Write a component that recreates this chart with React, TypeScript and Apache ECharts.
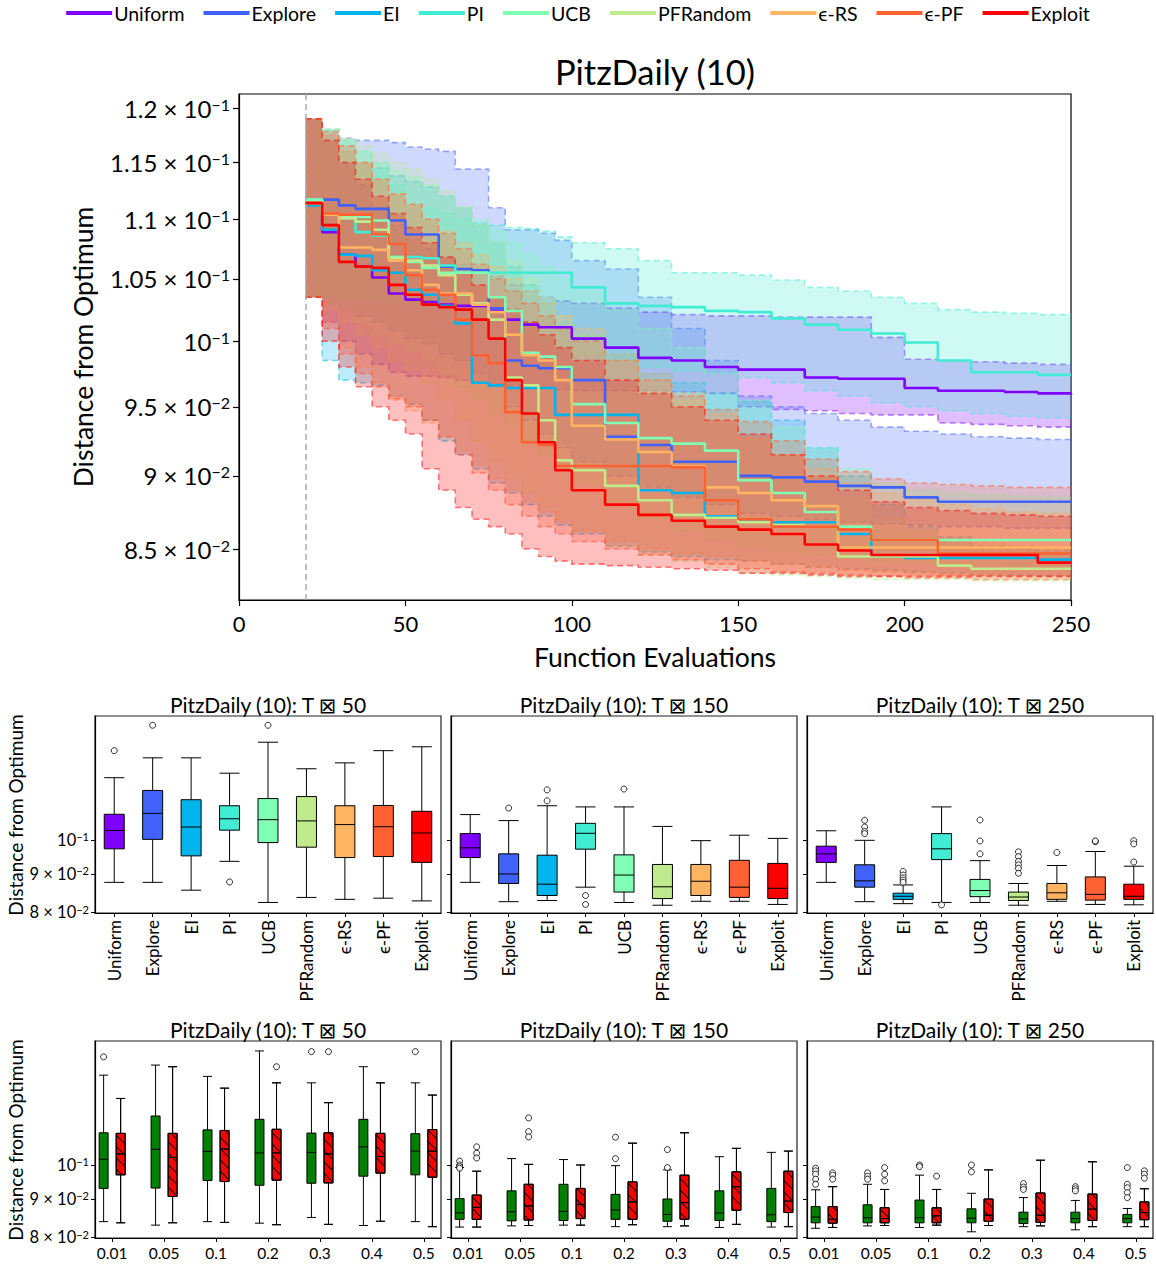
import React, { useEffect, useRef } from "react";
import * as echarts from "echarts";

const FONT = "Lato, 'DejaVu Sans', sans-serif";

const methods = ["Uniform", "Explore", "EI", "PI", "UCB", "PFRandom", "ϵ-RS", "ϵ-PF", "Exploit"];
const colors = ["#8000ff", "#4062fa", "#00b5eb", "#40ecd4", "#80ffb4", "#c0eb8d", "#ffb462", "#ff6232", "#ff0000"];

const evals = [20, 25, 30, 35, 40, 45, 50, 55, 60, 65, 70, 75, 80, 85, 90, 95, 100, 110, 120, 130, 140, 150, 160, 170, 180, 190, 200, 210, 220, 230, 240, 250];

const uniformMed = [0.1114,0.1089,0.1070,0.1060,0.1051,0.1038,0.1033,0.1031,0.1029,0.1028,0.1028,0.1024,0.1017,0.1013,0.1011,0.1011,0.1002,0.0995,0.0987,0.0985,0.0980,0.0978,0.0978,0.0972,0.0971,0.0971,0.0964,0.0962,0.0962,0.0961,0.0960,0.0959];
const uniformLo = [0.1035,0.1015,0.1000,0.0990,0.0982,0.0976,0.0973,0.0973,0.0972,0.0970,0.0968,0.0967,0.0966,0.0965,0.0964,0.0963,0.0962,0.0962,0.0962,0.0961,0.0960,0.0950,0.0948,0.0947,0.0945,0.0944,0.0944,0.0938,0.0937,0.0936,0.0935,0.0935];
const uniformHi = [0.1190,0.1175,0.1150,0.1130,0.1110,0.1095,0.1083,0.1075,0.1068,0.1062,0.1058,0.1052,0.1045,0.1040,0.1035,0.1032,0.1030,0.1026,0.1023,0.1021,0.1020,0.1020,0.1019,0.1019,0.1019,0.1003,0.0986,0.0985,0.0984,0.0983,0.0982,0.0981];

const exploreMed = [0.1117,0.1117,0.1112,0.1109,0.1109,0.1099,0.1087,0.1087,0.1060,0.1058,0.1057,0.1026,0.0985,0.0981,0.0979,0.0979,0.0970,0.0928,0.0922,0.0910,0.0910,0.0900,0.0899,0.0896,0.0893,0.0892,0.0885,0.0882,0.0882,0.0882,0.0882,0.0882];
const exploreLo = [0.1035,0.1030,0.1025,0.1020,0.1015,0.1008,0.1002,0.0998,0.0990,0.0985,0.0975,0.0965,0.0950,0.0940,0.0930,0.0920,0.0910,0.0900,0.0892,0.0885,0.0880,0.0874,0.0872,0.0870,0.0868,0.0867,0.0866,0.0865,0.0865,0.0864,0.0864,0.0864];
const exploreHi = [0.1190,0.1180,0.1172,0.1170,0.1170,0.1168,0.1164,0.1162,0.1160,0.1144,0.1144,0.1110,0.1091,0.1091,0.1088,0.1082,0.1065,0.1058,0.1035,0.1010,0.0985,0.0958,0.0950,0.0945,0.0940,0.0935,0.0932,0.0930,0.0928,0.0927,0.0926,0.0926];

const eiMed = [0.1112,0.1091,0.1070,0.1069,0.1057,0.1055,0.1041,0.1037,0.1028,0.1014,0.0968,0.0966,0.0964,0.0964,0.0964,0.0944,0.0944,0.0944,0.0890,0.0888,0.0872,0.0870,0.0868,0.0868,0.0860,0.0845,0.0844,0.0844,0.0844,0.0844,0.0843,0.0843];
const eiLo = [0.1035,0.0985,0.0970,0.0968,0.0966,0.0958,0.0952,0.0940,0.0925,0.0915,0.0905,0.0895,0.0888,0.0880,0.0872,0.0866,0.0860,0.0852,0.0848,0.0845,0.0843,0.0842,0.0840,0.0838,0.0837,0.0836,0.0835,0.0834,0.0833,0.0833,0.0832,0.0832];
const eiHi = [0.1190,0.1170,0.1160,0.1150,0.1145,0.1138,0.1133,0.1128,0.1120,0.1110,0.1095,0.1080,0.1060,0.1045,0.1030,0.1015,0.1005,0.0990,0.0975,0.0968,0.0960,0.0954,0.0940,0.0920,0.0900,0.0880,0.0865,0.0858,0.0852,0.0850,0.0849,0.0848];

const piMed = [0.1117,0.1104,0.1101,0.1089,0.1086,0.1068,0.1068,0.1067,0.1061,0.1055,0.1055,0.1055,0.1055,0.1055,0.1055,0.1055,0.1043,0.1030,0.1028,0.1027,0.1024,0.1023,0.1018,0.1013,0.1009,0.1006,0.0999,0.0985,0.0976,0.0976,0.0974,0.0974];
const piLo = [0.1035,0.1035,0.1034,0.1033,0.1032,0.1031,0.1031,0.1030,0.1028,0.1025,0.1020,0.1015,0.1010,0.1005,0.1000,0.0995,0.0990,0.0985,0.0980,0.0977,0.0975,0.0972,0.0968,0.0962,0.0958,0.0953,0.0950,0.0947,0.0945,0.0943,0.0942,0.0941];
const piHi = [0.1190,0.1180,0.1170,0.1160,0.1150,0.1130,0.1112,0.1110,0.1105,0.1100,0.1097,0.1095,0.1093,0.1092,0.1090,0.1085,0.1080,0.1075,0.1065,0.1055,0.1055,0.1053,0.1049,0.1043,0.1040,0.1035,0.1030,0.1025,0.1023,0.1022,0.1021,0.1020];

const ucbMed = [0.1117,0.1104,0.1102,0.1102,0.1099,0.1068,0.1064,0.1059,0.1055,0.1055,0.1055,0.1035,0.1024,0.0991,0.0988,0.0980,0.0952,0.0938,0.0927,0.0923,0.0918,0.0897,0.0888,0.0875,0.0865,0.0856,0.0856,0.0856,0.0856,0.0856,0.0856,0.0856];
const ucbLo = [0.1035,0.1030,0.1025,0.1015,0.1005,0.0998,0.0992,0.0985,0.0975,0.0965,0.0955,0.0945,0.0935,0.0925,0.0915,0.0905,0.0895,0.0880,0.0870,0.0862,0.0856,0.0851,0.0848,0.0846,0.0844,0.0842,0.0841,0.0840,0.0840,0.0839,0.0839,0.0839];
const ucbHi = [0.1190,0.1180,0.1170,0.1160,0.1150,0.1142,0.1137,0.1130,0.1120,0.1110,0.1100,0.1090,0.1080,0.1070,0.1060,0.1050,0.1040,0.1025,0.1010,0.0995,0.0975,0.0955,0.0935,0.0920,0.0905,0.0895,0.0890,0.0888,0.0887,0.0886,0.0885,0.0885];

const pfrMed = [0.1114,0.1104,0.1101,0.1098,0.1091,0.1067,0.1065,0.1061,0.1053,0.1037,0.1030,0.1017,0.0972,0.0966,0.0940,0.0911,0.0904,0.0893,0.0883,0.0873,0.0871,0.0868,0.0866,0.0865,0.0845,0.0845,0.0845,0.0839,0.0837,0.0837,0.0837,0.0837];
const pfrLo = [0.1035,0.1025,0.1015,0.1005,0.0995,0.0985,0.0978,0.0968,0.0955,0.0940,0.0925,0.0910,0.0898,0.0888,0.0878,0.0870,0.0862,0.0852,0.0846,0.0842,0.0838,0.0834,0.0833,0.0832,0.0831,0.0830,0.0830,0.0830,0.0829,0.0829,0.0829,0.0829];
const pfrHi = [0.1190,0.1180,0.1172,0.1165,0.1158,0.1150,0.1144,0.1135,0.1125,0.1110,0.1095,0.1080,0.1065,0.1050,0.1035,0.1020,0.1005,0.0985,0.0970,0.0955,0.0940,0.0927,0.0915,0.0900,0.0885,0.0870,0.0862,0.0857,0.0854,0.0852,0.0851,0.0851];

const rsMed = [0.1114,0.1104,0.1076,0.1076,0.1074,0.1065,0.1057,0.1045,0.1038,0.1038,0.1029,0.1023,0.1005,0.0989,0.0985,0.0970,0.0936,0.0926,0.0917,0.0907,0.0892,0.0888,0.0883,0.0879,0.0851,0.0851,0.0851,0.0851,0.0851,0.0851,0.0851,0.0851];
const rsLo = [0.1035,0.1015,0.0995,0.0980,0.0968,0.0955,0.0947,0.0938,0.0928,0.0918,0.0908,0.0898,0.0890,0.0882,0.0875,0.0868,0.0862,0.0855,0.0850,0.0847,0.0845,0.0842,0.0840,0.0838,0.0836,0.0835,0.0834,0.0833,0.0833,0.0832,0.0832,0.0832];
const rsHi = [0.1190,0.1175,0.1160,0.1150,0.1135,0.1122,0.1112,0.1100,0.1090,0.1080,0.1070,0.1060,0.1050,0.1040,0.1030,0.1020,0.1010,0.0990,0.0975,0.0960,0.0945,0.0927,0.0915,0.0905,0.0895,0.0888,0.0884,0.0880,0.0877,0.0875,0.0874,0.0874];

const pfMed = [0.1114,0.1105,0.1104,0.1104,0.1087,0.1079,0.1053,0.1041,0.1037,0.1017,0.0989,0.0983,0.0946,0.0924,0.0922,0.0907,0.0907,0.0907,0.0907,0.0906,0.0883,0.0870,0.0865,0.0865,0.0863,0.0856,0.0856,0.0847,0.0847,0.0847,0.0847,0.0847];
const pfLo = [0.1035,0.1010,0.0990,0.0975,0.0965,0.0956,0.0950,0.0940,0.0928,0.0915,0.0902,0.0890,0.0880,0.0872,0.0865,0.0860,0.0855,0.0850,0.0846,0.0843,0.0840,0.0837,0.0835,0.0834,0.0833,0.0832,0.0831,0.0831,0.0830,0.0830,0.0830,0.0830];
const pfHi = [0.1190,0.1178,0.1165,0.1150,0.1135,0.1122,0.1113,0.1100,0.1088,0.1075,0.1062,0.1050,0.1040,0.1030,0.1020,0.1010,0.1000,0.0985,0.0970,0.0958,0.0948,0.0939,0.0925,0.0912,0.0903,0.0898,0.0895,0.0894,0.0893,0.0892,0.0892,0.0892];

const exMed = [0.1114,0.1095,0.1064,0.1060,0.1059,0.1045,0.1037,0.1029,0.1027,0.1025,0.1017,0.1002,0.0970,0.0945,0.0924,0.0904,0.0890,0.0880,0.0873,0.0869,0.0865,0.0863,0.0860,0.0853,0.0849,0.0846,0.0846,0.0846,0.0846,0.0846,0.0841,0.0841];
const exLo = [0.1035,0.1000,0.0980,0.0965,0.0950,0.0940,0.0930,0.0905,0.0890,0.0878,0.0870,0.0865,0.0860,0.0850,0.0845,0.0842,0.0840,0.0839,0.0838,0.0837,0.0836,0.0834,0.0834,0.0833,0.0832,0.0832,0.0832,0.0832,0.0832,0.0832,0.0832,0.0832];
const exHi = [0.1190,0.1170,0.1150,0.1135,0.1120,0.1105,0.1093,0.1080,0.1068,0.1055,0.1045,0.1035,0.1025,0.1015,0.1005,0.0995,0.0985,0.0970,0.0960,0.0950,0.0940,0.0930,0.0915,0.0900,0.0890,0.0882,0.0878,0.0876,0.0874,0.0873,0.0872,0.0872];

const MED = [uniformMed, exploreMed, eiMed, piMed, ucbMed, pfrMed, rsMed, pfMed, exMed];
const LO = [uniformLo, exploreLo, eiLo, piLo, ucbLo, pfrLo, rsLo, pfLo, exLo];
const HI = [uniformHi, exploreHi, eiHi, piHi, ucbHi, pfrHi, rsHi, pfHi, exHi];

const topTicks = [0.085, 0.09, 0.095, 0.1, 0.105, 0.11, 0.115, 0.12];
const boxTicks = [0.08, 0.09, 0.1];

// [min, Q1, median, Q3, max]
const box50 = [
  [0.0877, 0.0973, 0.1030, 0.1083, 0.1213],
  [0.0877, 0.1002, 0.1086, 0.1166, 0.1290],
  [0.0856, 0.0952, 0.1041, 0.1133, 0.1290],
  [0.0936, 0.1031, 0.1068, 0.1112, 0.1230],
  [0.0824, 0.0992, 0.1065, 0.1137, 0.1354],
  [0.0837, 0.0978, 0.1061, 0.1144, 0.1247],
  [0.0832, 0.0947, 0.1049, 0.1112, 0.1270],
  [0.0835, 0.0950, 0.1042, 0.1113, 0.1319],
  [0.0828, 0.0933, 0.1022, 0.1093, 0.1335],
];
const out50 = [[0, 0.1319], [1, 0.1427], [3, 0.0878], [4, 0.1427]];
const box150 = [
  [0.0877, 0.0947, 0.0976, 0.1020, 0.1082],
  [0.0826, 0.0874, 0.0900, 0.0958, 0.1062],
  [0.0829, 0.0842, 0.0872, 0.0954, 0.1112],
  [0.0864, 0.0972, 0.1021, 0.1053, 0.1108],
  [0.0824, 0.0851, 0.0897, 0.0955, 0.1108],
  [0.0817, 0.0834, 0.0865, 0.0927, 0.1043],
  [0.0827, 0.0842, 0.0880, 0.0927, 0.0998],
  [0.0827, 0.0837, 0.0864, 0.0939, 0.1015],
  [0.0819, 0.0834, 0.0861, 0.0930, 0.1005],
];
const out150 = [[1, 0.1104], [2, 0.1168], [2, 0.1129], [3, 0.0842], [3, 0.0819], [4, 0.1171]];
const box250 = [
  [0.0877, 0.0933, 0.0958, 0.0981, 0.1029],
  [0.0826, 0.0864, 0.0881, 0.0926, 0.0999],
  [0.0821, 0.0832, 0.0840, 0.0848, 0.0870],
  [0.0824, 0.0941, 0.0973, 0.1020, 0.1108],
  [0.0824, 0.0839, 0.0855, 0.0885, 0.0938],
  [0.0817, 0.0829, 0.0838, 0.0851, 0.0874],
  [0.0827, 0.0832, 0.0849, 0.0874, 0.0924],
  [0.0819, 0.0830, 0.0845, 0.0892, 0.0965],
  [0.0818, 0.0832, 0.0840, 0.0872, 0.0922],
];
const out250 = [[1, 0.1063], [1, 0.1041], [1, 0.1027], [1, 0.1020], [2, 0.0907], [2, 0.0897], [2, 0.0889], [2, 0.0883], [2, 0.0877], [3, 0.0818], [4, 0.1064], [4, 0.0997], [4, 0.0958], [5, 0.0964], [5, 0.0950], [5, 0.0936], [5, 0.0926], [5, 0.0916], [5, 0.0902], [6, 0.0962], [7, 0.0995], [7, 0.0997], [8, 0.0998], [8, 0.0988], [8, 0.0934]];

const rates = ["0.01", "0.05", "0.1", "0.2", "0.3", "0.4", "0.5"];
const green50 = [
  [0.0839, 0.0930, 0.1018, 0.1105, 0.1321],
  [0.0830, 0.0931, 0.1050, 0.1164, 0.1363],
  [0.0839, 0.0953, 0.1043, 0.1115, 0.1316],
  [0.0835, 0.0939, 0.1038, 0.1152, 0.1424],
  [0.0850, 0.0945, 0.1040, 0.1104, 0.1290],
  [0.0829, 0.0966, 0.1058, 0.1152, 0.1356],
  [0.0839, 0.0970, 0.1044, 0.1102, 0.1290],
];
const red50 = [
  [0.0836, 0.0970, 0.1035, 0.1103, 0.1229],
  [0.0836, 0.0907, 0.1024, 0.1103, 0.1356],
  [0.0837, 0.0950, 0.1051, 0.1113, 0.1269],
  [0.0831, 0.0954, 0.1038, 0.1117, 0.1290],
  [0.0832, 0.0946, 0.1035, 0.1105, 0.1213],
  [0.0840, 0.0975, 0.1027, 0.1103, 0.1290],
  [0.0826, 0.0963, 0.1044, 0.1116, 0.1242],
];
const greenOut50 = [[0, 0.1398], [4, 0.1421], [6, 0.1421]];
const redOut50 = [[3, 0.1356], [4, 0.1421]];
const green150 = [
  [0.0825, 0.0845, 0.0862, 0.0901, 0.0992],
  [0.0828, 0.0841, 0.0865, 0.0923, 0.1020],
  [0.0830, 0.0842, 0.0866, 0.0942, 0.1017],
  [0.0826, 0.0845, 0.0870, 0.0913, 0.0998],
  [0.0826, 0.0840, 0.0858, 0.0900, 0.0985],
  [0.0824, 0.0842, 0.0862, 0.0923, 0.1026],
  [0.0825, 0.0839, 0.0857, 0.0930, 0.1040],
];
const red150 = [
  [0.0825, 0.0845, 0.0877, 0.0911, 0.0981],
  [0.0829, 0.0843, 0.0881, 0.0942, 0.1002],
  [0.0830, 0.0847, 0.0885, 0.0930, 0.1000],
  [0.0831, 0.0845, 0.0892, 0.0949, 0.1070],
  [0.0828, 0.0845, 0.0890, 0.0969, 0.1105],
  [0.0832, 0.0869, 0.0935, 0.0979, 0.1053],
  [0.0826, 0.0863, 0.0894, 0.0981, 0.1044],
];
const greenOut150 = [[0, 0.1012], [0, 0.1000], [0, 0.0995], [0, 0.0990], [3, 0.1090], [3, 0.1020], [4, 0.1049], [4, 0.0992]];
const redOut150 = [[0, 0.1058], [0, 0.1037], [0, 0.1022], [1, 0.1157], [1, 0.1109], [1, 0.1091]];
const green250 = [
  [0.0822, 0.0836, 0.0851, 0.0879, 0.0926],
  [0.0828, 0.0836, 0.0849, 0.0884, 0.0942],
  [0.0824, 0.0836, 0.0849, 0.0897, 0.0969],
  [0.0813, 0.0836, 0.0848, 0.0873, 0.0916],
  [0.0826, 0.0834, 0.0846, 0.0864, 0.0904],
  [0.0818, 0.0836, 0.0847, 0.0864, 0.0896],
  [0.0826, 0.0836, 0.0847, 0.0858, 0.0874],
];
const red250 = [
  [0.0824, 0.0835, 0.0845, 0.0879, 0.0935],
  [0.0829, 0.0836, 0.0847, 0.0876, 0.0927],
  [0.0830, 0.0836, 0.0854, 0.0876, 0.0927],
  [0.0829, 0.0840, 0.0856, 0.0900, 0.0985],
  [0.0828, 0.0837, 0.0856, 0.0917, 0.1015],
  [0.0826, 0.0842, 0.0872, 0.0914, 0.1010],
  [0.0826, 0.0844, 0.0863, 0.0892, 0.0929],
];
const greenOut250 = [[0, 0.0990], [0, 0.0982], [0, 0.0972], [0, 0.0957], [0, 0.0942], [1, 0.0976], [1, 0.0966], [1, 0.0957], [2, 0.1000], [2, 0.0995], [3, 0.1000], [3, 0.0979], [4, 0.0944], [4, 0.0934], [4, 0.0927], [5, 0.0935], [5, 0.0929], [5, 0.0923], [6, 0.0992], [6, 0.0942], [6, 0.0932], [6, 0.0918], [6, 0.0904]];
const redOut250 = [[0, 0.0976], [0, 0.0969], [0, 0.0957], [1, 0.0992], [1, 0.0972], [1, 0.0952], [2, 0.0966], [6, 0.0982], [6, 0.0972], [6, 0.0960]];

const panelTitles = ["PitzDaily (10): T ⊠ 50", "PitzDaily (10): T ⊠ 150", "PitzDaily (10): T ⊠ 250"];

const lg = (v: number) => Math.log10(v);

function sciLabel(v: number) {
  const e = Math.floor(Math.log10(v) + 1e-9);
  const m = Math.round((v / Math.pow(10, e)) * 1000) / 1000;
  const sup = "−" + String(-e);
  return m === 1 ? `{b|10}{s|${sup}}` : `{b|${m} × 10}{s|${sup}}`;
}

const TOP_MIN = -1.0879;
const TOP_MAX = -0.91606;
const BOX_MIN = -1.09825;
const BOX_MAX = -0.83311;
const PANEL_LEFT = [95, 451, 807];
const ROW_TOP = [716, 1041];
const PANEL_W = 346;
const PANEL_H = 197;
const OFF = 0.164;

function buildOption(): any {
  const black = "#000";
  const grids: any[] = [{ left: 239, top: 94, width: 832, height: 506, show: true, borderColor: black, borderWidth: 1.2, backgroundColor: "transparent" }];
  for (let r = 0; r < 2; r++)
    for (let p = 0; p < 3; p++)
      grids.push({ left: PANEL_LEFT[p], top: ROW_TOP[r], width: PANEL_W, height: PANEL_H, show: true, borderColor: "#222", borderWidth: 1.2, backgroundColor: "transparent" });

  const axLine = { show: true, onZero: false, lineStyle: { color: black, width: 1.2 } };
  const xAxes: any[] = [
    {
      type: "value", gridIndex: 0, min: 0, max: 250, interval: 50,
      axisLine: axLine, axisTick: { show: true, length: 6, lineStyle: { color: black, width: 1.2 } },
      splitLine: { show: false },
      axisLabel: { color: black, fontSize: 22, fontFamily: FONT, margin: 12 },
    },
  ];
  for (let p = 0; p < 3; p++)
    xAxes.push({
      type: "category", gridIndex: 1 + p, data: methods,
      axisLine: axLine, axisTick: { show: true, alignWithLabel: true, length: 4, lineStyle: { color: black } },
      axisLabel: { rotate: 90, interval: 0, color: black, fontSize: 17, fontFamily: FONT, margin: 7 },
    });
  for (let p = 0; p < 3; p++)
    xAxes.push({
      type: "value", gridIndex: 4 + p, min: -0.33, max: 6.33,
      axisLine: axLine, splitLine: { show: false },
      axisTick: { show: true, length: 4, customValues: [0, 1, 2, 3, 4, 5, 6], lineStyle: { color: black } },
      axisLabel: { customValues: [0, 1, 2, 3, 4, 5, 6], color: black, fontSize: 15.5, fontFamily: FONT, margin: 7, formatter: (v: number) => rates[Math.round(v)] },
    });

  const yAxes: any[] = [
    {
      type: "value", gridIndex: 0, min: TOP_MIN, max: TOP_MAX,
      axisLine: axLine, splitLine: { show: false },
      axisTick: { show: true, length: 6, customValues: topTicks.map(lg), lineStyle: { color: black, width: 1.2 } },
      axisLabel: {
        customValues: topTicks.map(lg), margin: 9,
        formatter: (v: number) => sciLabel(Math.pow(10, v)),
        rich: {
          b: { fontSize: 24, fontFamily: FONT, color: black },
          s: { fontSize: 16, fontFamily: FONT, color: black, verticalAlign: "top" },
        },
      },
    },
  ];
  for (let i = 0; i < 6; i++) {
    const showLab = i === 0 || i === 3;
    yAxes.push({
      type: "value", gridIndex: 1 + i, min: BOX_MIN, max: BOX_MAX,
      axisLine: axLine, splitLine: { show: false },
      axisTick: { show: true, length: 4, customValues: boxTicks.map(lg), lineStyle: { color: black } },
      axisLabel: {
        show: showLab, customValues: boxTicks.map(lg), margin: 6,
        formatter: (v: number) => sciLabel(Math.pow(10, v)),
        rich: {
          b: { fontSize: 16.5, fontFamily: FONT, color: black },
          s: { fontSize: 11, fontFamily: FONT, color: black, verticalAlign: "top" },
        },
      },
    });
  }

  const series: any[] = [];

  // IQR bands
  methods.forEach((m, i) => {
    series.push({
      type: "custom", name: m + " band", xAxisIndex: 0, yAxisIndex: 0, silent: true, clip: true, z: 2,
      data: [[evals[0], lg(MED[i][0])]],
      renderItem: (_params: any, api: any) => {
        const stepPts = (ys: number[]) => {
          const pts: number[][] = [];
          for (let k = 0; k < evals.length; k++) {
            const p = api.coord([evals[k], lg(ys[k])]);
            if (k > 0) pts.push([p[0], pts[pts.length - 1][1]]);
            pts.push(p);
          }
          return pts;
        };
        const up = stepPts(HI[i]);
        const lo = stepPts(LO[i]);
        return {
          type: "group",
          children: [
            { type: "polygon", shape: { points: up.concat(lo.slice().reverse()) }, style: { fill: colors[i], opacity: 0.25 } },
            { type: "polyline", shape: { points: up }, style: { stroke: colors[i], fill: null, lineWidth: 1.6, lineDash: [6, 4], opacity: 0.5 } },
            { type: "polyline", shape: { points: lo }, style: { stroke: colors[i], fill: null, lineWidth: 1.6, lineDash: [6, 4], opacity: 0.5 } },
          ],
        };
      },
    });
  });

  // median lines
  methods.forEach((m, i) => {
    const s: any = {
      type: "line", name: m, xAxisIndex: 0, yAxisIndex: 0, step: "end", symbol: "none", showSymbol: false, z: 3,
      lineStyle: { color: colors[i], width: 2.6 }, itemStyle: { color: colors[i] },
      data: evals.map((x, k) => [x, lg(MED[i][k])]),
      silent: true,
    };
    if (i === 0) {
      s.markLine = {
        silent: true, symbol: "none", label: { show: false },
        lineStyle: { color: "#aaa", type: [6, 4], width: 1.5 },
        data: [{ xAxis: 20 }],
      };
    }
    series.push(s);
  });

  const outlierStyle = { color: "#fff", borderColor: black, borderWidth: 1 };
  const boxSets = [box50, box150, box250];
  const outSets = [out50, out150, out250];
  boxSets.forEach((bs, p) => {
    series.push({
      type: "boxplot", xAxisIndex: 1 + p, yAxisIndex: 1 + p, boxWidth: [20, 20], silent: true, z: 3,
      itemStyle: { borderColor: black, borderWidth: 1 },
      data: bs.map((b, i) => ({ value: b.map(lg), itemStyle: { color: colors[i], borderColor: black, borderWidth: 1 } })),
    });
    series.push({
      type: "scatter", xAxisIndex: 1 + p, yAxisIndex: 1 + p, symbol: "circle", symbolSize: 6, silent: true, z: 4,
      itemStyle: outlierStyle,
      data: outSets[p].map((o) => [o[0], lg(o[1])]),
    });
  });

  const greenSets = [green50, green150, green250];
  const redSets = [red50, red150, red250];
  const gOutSets = [greenOut50, greenOut150, greenOut250];
  const rOutSets = [redOut50, redOut150, redOut250];
  const hatch = {
    symbol: "rect", symbolSize: 1, color: "rgba(0,0,0,0.9)",
    dashArrayX: [1, 0], dashArrayY: [1, 7], rotation: Math.PI / 4,
  };
  for (let p = 0; p < 3; p++) {
    const items: any[] = [];
    for (let k = 0; k < rates.length; k++) {
      items.push({ value: [k - OFF, ...greenSets[p][k].map(lg)], itemStyle: { color: "#008000", borderColor: black, borderWidth: 1 } });
      items.push({ value: [k + OFF, ...redSets[p][k].map(lg)], itemStyle: { color: "#ff0000", borderColor: black, borderWidth: 1, decal: hatch } });
    }
    series.push({
      type: "boxplot", xAxisIndex: 4 + p, yAxisIndex: 4 + p, boxWidth: [9, 9], silent: true, z: 3, layout: "horizontal",
      itemStyle: { borderColor: black, borderWidth: 1 },
      data: items,
    });
    series.push({
      type: "scatter", xAxisIndex: 4 + p, yAxisIndex: 4 + p, symbol: "circle", symbolSize: 6, silent: true, z: 4,
      itemStyle: outlierStyle,
      data: gOutSets[p].map((o) => [o[0] - OFF, lg(o[1])]).concat(rOutSets[p].map((o) => [o[0] + OFF, lg(o[1])])),
    });
  }

  const txt = (text: string, x: number, y: number, fontSize: number, rot = 0) => ({
    type: "text", x, y, rotation: rot, silent: true,
    style: { text, fontSize, fontFamily: FONT, fill: black, align: "center", verticalAlign: "middle", textAlign: "center", textVerticalAlign: "middle" },
  });
  const graphics: any[] = [
    txt("PitzDaily (10)", 655, 71, 34.5),
    txt("Function Evaluations", 655, 657, 26.5),
    txt("Distance from Optimum", 83, 347, 26.5, Math.PI / 2),
    txt("Distance from Optimum", 15, 815, 19, Math.PI / 2),
    txt("Distance from Optimum", 15, 1140, 19, Math.PI / 2),
  ];
  for (let r = 0; r < 2; r++)
    for (let p = 0; p < 3; p++)
      graphics.push(txt(panelTitles[p], PANEL_LEFT[p] + PANEL_W / 2, r === 0 ? 704 : 1029, 21));

  return {
    animation: false,
    backgroundColor: "#fff",
    textStyle: { fontFamily: FONT },
    legend: {
      data: methods, top: 0, left: "center", padding: [3, 5, 3, 5], icon: "rect", itemWidth: 46, itemHeight: 4, itemGap: 19,
      selectedMode: false, textStyle: { fontSize: 19.5, fontFamily: FONT, color: black, padding: [0, 0, 0, -3] },
    },
    grid: grids,
    xAxis: xAxes,
    yAxis: yAxes,
    series,
    graphic: graphics,
  };
}

export default function App() {
  const ref = useRef<HTMLDivElement>(null);
  useEffect(() => {
    document.body.style.margin = "0";
    const chart = echarts.init(ref.current!, null, { renderer: "svg" });
    chart.setOption(buildOption());
    return () => chart.dispose();
  }, []);
  return <div ref={ref} style={{ width: 1156, height: 1266 }} />;
}
